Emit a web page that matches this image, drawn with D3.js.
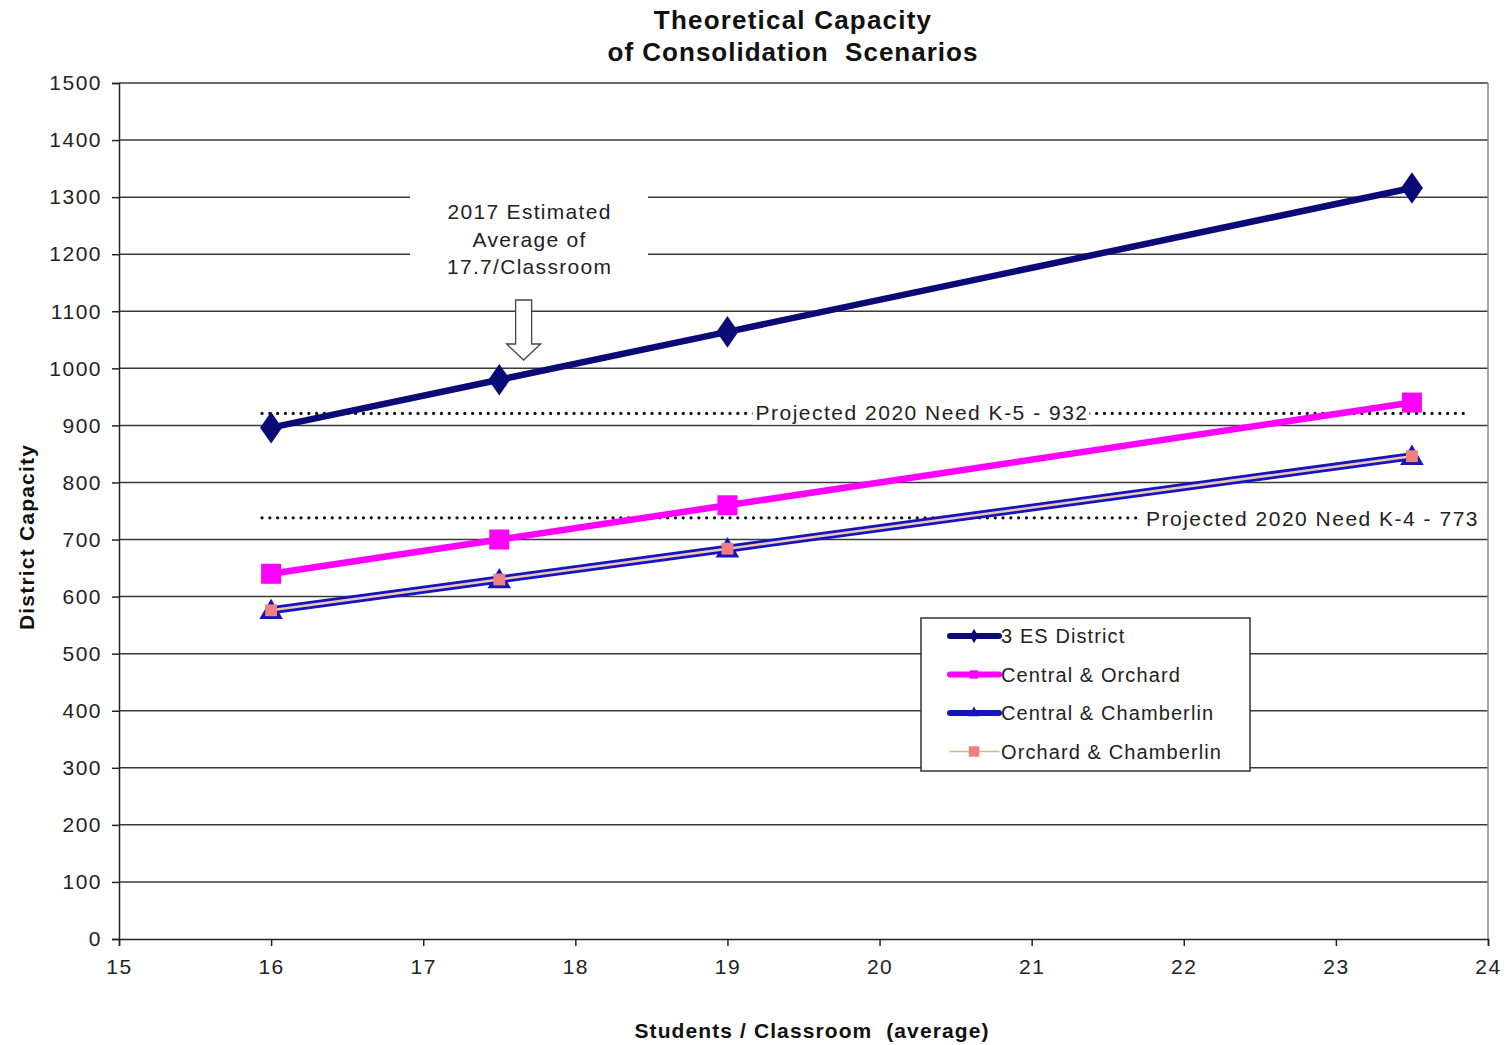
<!DOCTYPE html>
<html>
<head>
<meta charset="utf-8">
<script src="https://cdn.jsdelivr.net/npm/d3@7"></script>
<style>
  html, body { margin: 0; padding: 0; background: #fff; }
  svg { display: block; font-family: "Liberation Sans", Arial, sans-serif; }
</style>
</head>
<body>
<svg id="chart" width="1506" height="1045"></svg>
<script>
// ---- Data ----
const studentsPerClassroom = [16, 17.5, 19, 23.5];
const seriesNames = ["3 ES District", "Central & Orchard", "Central & Chamberlin", "Orchard & Chamberlin"];
const threeES = [896, 980, 1064, 1316];
const centralOrchard = [640, 700, 760, 940];
const centralChamberlin = [576, 630, 684, 846];
const orchardChamberlin = [576, 630, 684, 846];
const yTicks = [0, 100, 200, 300, 400, 500, 600, 700, 800, 900, 1000, 1100, 1200, 1300, 1400, 1500];
const xTicks = [15, 16, 17, 18, 19, 20, 21, 22, 23, 24];
const needLabels = ["Projected 2020 Need K-5 - 932", "Projected 2020 Need K-4 - 773"];
const needLevels = [921, 738];           // as drawn in the reference
const needExtent = [[15.94, 23.88], [15.94, 21.73]];
const annotationLines = ["2017 Estimated", "Average of", "17.7/Classroom"];
const annotationX = 17.66;

const svg = d3.select("#chart");
const x = d3.scaleLinear().domain([15, 24]).range([119, 1488]);
const y = d3.scaleLinear().domain([0, 1500]).range([939, 83]);

// Gridlines
svg.append("g").selectAll("line").data(yTicks.filter(d => d > 0)).join("line")
  .attr("x1", x(15)).attr("x2", x(24))
  .attr("y1", d => y(d)).attr("y2", d => y(d))
  .attr("stroke", "#3a3a3a").attr("stroke-width", 1.5);
// right border
svg.append("line").attr("x1", x(24)).attr("x2", x(24)).attr("y1", y(1500)).attr("y2", y(0))
  .attr("stroke", "#888").attr("stroke-width", 1.5);

// Axes
const yAxis = svg.append("g").attr("transform", `translate(${x(15)},0)`)
  .call(d3.axisLeft(y).tickValues(yTicks).tickSize(7).tickPadding(10).tickFormat(d3.format("d")));
const xAxis = svg.append("g").attr("transform", `translate(0,${y(0)})`)
  .call(d3.axisBottom(x).tickValues(xTicks).tickSize(7).tickPadding(13).tickFormat(d3.format("d")));
[yAxis, xAxis].forEach(a => {
  a.select(".domain").attr("stroke", "#222").attr("stroke-width", 1.5);
  a.selectAll(".tick line").attr("stroke", "#222").attr("stroke-width", 1.5);
  a.selectAll("text").attr("font-family", "Liberation Sans, Arial, sans-serif")
    .attr("font-size", 21).attr("letter-spacing", "1.5px").attr("fill", "#222");
});

// Annotation white box (covers gridlines)
svg.append("rect").attr("x", 410).attr("y", 186).attr("width", 238).attr("height", 100).attr("fill", "#fff");
svg.append("g").selectAll("text").data(annotationLines).join("text")
  .attr("x", x(annotationX) + 6).attr("y", (d, i) => 219 + i * 27.5)
  .attr("text-anchor", "middle").attr("font-size", 21).attr("letter-spacing", "1.3px")
  .attr("fill", "#222").text(d => d);
// Hollow arrow
{
  const cx = x(annotationX), top = 300, tip = 360;
  const pts = [[cx - 8, top], [cx + 8, top], [cx + 8, 344], [cx + 17, 344], [cx, tip], [cx - 17, 344], [cx - 8, 344]];
  svg.append("path").attr("d", d3.line()(pts) + "Z").attr("fill", "#fff").attr("stroke", "#444").attr("stroke-width", 1.3);
}

// Dotted need lines
needLevels.forEach((v, i) => {
  svg.append("line")
    .attr("x1", x(needExtent[i][0])).attr("x2", x(needExtent[i][1]))
    .attr("y1", y(v)).attr("y2", y(v))
    .attr("stroke", "#111").attr("stroke-width", 3.2).attr("stroke-linecap", "round")
    .attr("stroke-dasharray", "0.1 7.7");
});
function labelWithBg(str, lx, ly, anchor) {
  const t = svg.append("text").attr("x", lx).attr("y", ly)
    .attr("text-anchor", anchor).attr("font-size", 21).attr("letter-spacing", "1.5px")
    .attr("fill", "#222").text(str);
  const bb = t.node().getBBox();
  svg.insert("rect", () => t.node()).attr("x", bb.x - 3).attr("y", bb.y).attr("width", bb.width + 4).attr("height", bb.height).attr("fill", "#fff");
}
labelWithBg(needLabels[0], 922, y(needLevels[0]) + 7, "middle");
labelWithBg(needLabels[1], 1479, y(needLevels[1]) + 8, "end");

// Series
const styles = [
  { data: threeES, color: "#0b0b78", width: 6.5, marker: d3.symbolDiamond, msize: 290, mcolor: "#0b0b78" },
  { data: centralOrchard, color: "#ff00ff", width: 6.5, marker: d3.symbolSquare, msize: 400, mcolor: "#ff00ff" },
  { data: centralChamberlin, color: "#1414c0", width: 8, marker: d3.symbolTriangle, msize: 240, mcolor: "#1414c0" },
  { data: orchardChamberlin, color: "#ecc8b0", width: 2.5, marker: d3.symbolSquare, msize: 140, mcolor: "#f08080" }
];
const line = d3.line().x((d, i) => x(studentsPerClassroom[i])).y(d => y(d));
styles.forEach(s => {
  svg.append("path").datum(s.data).attr("d", line)
    .attr("fill", "none").attr("stroke", s.color).attr("stroke-width", s.width).attr("stroke-linejoin", "round");
  svg.append("g").selectAll("path").data(s.data).join("path")
    .attr("transform", (d, i) => `translate(${x(studentsPerClassroom[i])},${y(d) + (s.marker === d3.symbolTriangle ? 2 : 0)})` + (s.marker === d3.symbolDiamond ? " scale(1.2,1)" : ""))
    .attr("d", d3.symbol().type(s.marker).size(s.msize)).attr("fill", s.mcolor);
});

// Legend
const lg = svg.append("g");
lg.append("rect").attr("x", 921).attr("y", 618).attr("width", 329).attr("height", 153)
  .attr("fill", "#fff").attr("stroke", "#333").attr("stroke-width", 1.5);
const legendMarkers = [
  { m: d3.symbolDiamond, size: 60 }, { m: d3.symbolSquare, size: 70 },
  { m: d3.symbolTriangle, size: 55 }, { m: d3.symbolSquare, size: 110 }
];
seriesNames.forEach((name, i) => {
  const ly = 636 + i * 38.5;
  const s = styles[i];
  lg.append("line").attr("x1", 950).attr("x2", 999).attr("y1", ly).attr("y2", ly)
    .attr("stroke", i === 3 ? "#e0b080" : s.color).attr("stroke-width", i === 3 ? 1.5 : 6).attr("stroke-linecap", "round");
  lg.append("path").attr("transform", `translate(974,${ly})`)
    .attr("d", d3.symbol().type(legendMarkers[i].m).size(legendMarkers[i].size)).attr("fill", s.mcolor);
  lg.append("text").attr("x", 1001).attr("y", ly + 7).attr("font-size", 20).attr("letter-spacing", "1.1px")
    .attr("fill", "#222").text(name);
});

// Titles
svg.append("text").attr("x", 793).attr("y", 29).attr("text-anchor", "middle")
  .attr("font-size", 26).attr("font-weight", "bold").attr("letter-spacing", "1.2px").attr("fill", "#111").text("Theoretical Capacity");
svg.append("text").attr("x", 793).attr("y", 61).attr("text-anchor", "middle")
  .attr("font-size", 26).attr("font-weight", "bold").attr("letter-spacing", "1.0px").attr("fill", "#111")
  .style("white-space", "pre").text("of Consolidation  Scenarios");
svg.append("text").attr("x", 812).attr("y", 1038).attr("text-anchor", "middle")
  .attr("font-size", 21).attr("font-weight", "bold").attr("letter-spacing", "1.1px").attr("fill", "#111")
  .style("white-space", "pre").text("Students / Classroom  (average)");
svg.append("text").attr("transform", "translate(34,537) rotate(-90)").attr("text-anchor", "middle")
  .attr("font-size", 21).attr("font-weight", "bold").attr("letter-spacing", "1.2px").attr("fill", "#111").text("District Capacity");
</script>
</body>
</html>
